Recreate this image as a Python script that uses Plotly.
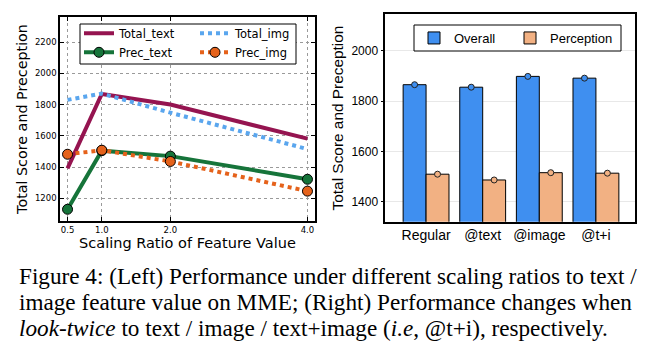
import plotly.graph_objects as go

# ---------------- data ----------------
ratios = [0.5, 1.0, 2.0, 4.0]
ratio_labels = ["0.5", "1.0", "2.0", "4.0"]
total_text = [1392, 1868, 1800, 1582]
total_img = [1830, 1870, 1748, 1515]
prec_text = [1130, 1505, 1470, 1322]
prec_img = [1482, 1508, 1436, 1246]
left_yticks = [1200, 1400, 1600, 1800, 2000, 2200]

modes = ["Regular", "@text", "@image", "@t+i"]
overall = [1865, 1855, 1898, 1891]
perception = [1509, 1486, 1515, 1513]
right_yticks = [1400, 1600, 1800, 2000]

caption_lines = [
    "Figure 4: (Left) Performance under different scaling ratios to text /",
    "image feature value on MME; (Right) Performance changes when",
    "<i>look-twice</i> to text / image / text+image (<i>i.e</i>, @t+i), respectively.",
]

W, H = 650, 348
def px(x):
    return x / W
def py(y):
    return 1 - y / H

LF = "DejaVu Sans"
RF = "Liberation Sans"
CF = "Liberation Serif"

c_tt = "#951450"
c_ti = "#5aa6ee"
c_pt = "#16743a"
c_pi = "#e5621b"
c_ov = "#3f8ff0"
c_pe = "#f2b183"

fig = go.Figure()

# ---------------- left panel ----------------
fig.add_trace(go.Scatter(x=ratios, y=total_text, name="Total_text", mode="lines",
                         line=dict(color=c_tt, width=4), xaxis="x", yaxis="y",
                         legend="legend", offsetgroup="L"))
fig.add_trace(go.Scatter(x=ratios, y=prec_text, name="Prec_text", mode="lines+markers",
                         line=dict(color=c_pt, width=4),
                         marker=dict(size=10, color=c_pt, line=dict(color="black", width=1)),
                         xaxis="x", yaxis="y", legend="legend", offsetgroup="L"))
fig.add_trace(go.Scatter(x=ratios, y=total_img, name="Total_img", mode="lines",
                         line=dict(color=c_ti, width=4, dash="dot"), xaxis="x", yaxis="y",
                         legend="legend2", offsetgroup="L"))
fig.add_trace(go.Scatter(x=ratios, y=prec_img, name="Prec_img", mode="lines+markers",
                         line=dict(color=c_pi, width=4, dash="dot"),
                         marker=dict(size=10, color=c_pi, line=dict(color="black", width=1)),
                         xaxis="x", yaxis="y", legend="legend2", offsetgroup="L"))

# ---------------- right panel ----------------
fig.add_trace(go.Bar(x=modes, y=overall, name="Overall", marker=dict(color=c_ov, line=dict(color="black", width=1)),
                     xaxis="x2", yaxis="y2", legend="legend3", offsetgroup="o"))
fig.add_trace(go.Bar(x=modes, y=perception, name="Perception", marker=dict(color=c_pe, line=dict(color="black", width=1)),
                     xaxis="x2", yaxis="y2", legend="legend4", offsetgroup="p"))
fig.add_trace(go.Scatter(x=modes, y=overall, mode="markers", showlegend=False,
                         marker=dict(size=6, color=c_ov, line=dict(color="#222", width=1)),
                         xaxis="x2", yaxis="y2", offsetgroup="o", orientation="v"))
fig.add_trace(go.Scatter(x=modes, y=perception, mode="markers", showlegend=False,
                         marker=dict(size=6, color=c_pe, line=dict(color="#222", width=1)),
                         xaxis="x2", yaxis="y2", offsetgroup="p", orientation="v"))

leg_common = dict(bgcolor="rgba(0,0,0,0)", borderwidth=0, itemwidth=30, tracegroupgap=0,
                  orientation="v", xanchor="left", yanchor="middle", itemclick=False)

fig.update_layout(
    width=W, height=H,
    margin=dict(l=0, r=0, t=0, b=0),
    paper_bgcolor="white", plot_bgcolor="white",
    barmode="group", bargap=0.19, bargroupgap=0,
    scattermode="group", scattergap=0.19,
    xaxis=dict(domain=[px(60), px(315)], range=[0.39, 4.11], tickvals=ratios, ticktext=ratio_labels,
               showline=True, mirror="ticks", linecolor="black", linewidth=1.5,
               ticks="inside", ticklen=4, tickcolor="black",
               showgrid=True, gridcolor="#9a9a9a", griddash="dot", gridwidth=1,
               zeroline=False, tickfont=dict(family=LF, size=8.5, color="black"),
               title=dict(text="Scaling Ratio of Feature Value", font=dict(family=LF, size=14.5, color="black"), standoff=2),
               automargin=False, anchor="y"),
    yaxis=dict(domain=[py(221), py(17)], range=[1055, 2360], tickvals=left_yticks,
               showline=True, mirror="ticks", linecolor="black", linewidth=1.5,
               ticks="inside", ticklen=4, tickcolor="black",
               showgrid=True, gridcolor="#9a9a9a", griddash="dot", gridwidth=1,
               zeroline=False, tickfont=dict(family=LF, size=8.5, color="black"),
               title=dict(text="Total Score and Preception", font=dict(family=LF, size=14.3, color="black"), standoff=4),
               automargin=False, anchor="x"),
    xaxis2=dict(domain=[px(385.3), px(635)], range=[-0.72, 3.69], type="category",
                showline=True, mirror=True, linecolor="black", linewidth=1.5,
                ticks="", showgrid=False, zeroline=False,
                tickfont=dict(family=RF, size=14, color="black"),
                automargin=False, anchor="y2"),
    yaxis2=dict(domain=[py(221.7), py(14.3)], range=[1320, 2145], tickvals=right_yticks,
                showline=True, mirror=True, linecolor="black", linewidth=1.5,
                ticks="outside", ticklen=3, tickcolor="black",
                showgrid=True, gridcolor="#e8e8e8", gridwidth=1, zeroline=False,
                tickfont=dict(family=RF, size=12, color="black"),
                title=dict(text="Total Score and Preception", font=dict(family=RF, size=15.4, color="black"), standoff=4),
                automargin=False, anchor="x2"),
    legend=dict(x=px(79), y=py(42.8), font=dict(family=LF, size=11.5, color="black"), **leg_common),
    legend2=dict(x=px(195), y=py(42.8), font=dict(family=LF, size=11.5, color="black"), **leg_common),
    legend3=dict(x=px(414), y=py(38), font=dict(family=RF, size=13, color="black"), **leg_common),
    legend4=dict(x=px(510), y=py(38), font=dict(family=RF, size=13, color="black"), **leg_common),
    showlegend=True,
)

# legend frames
fig.add_shape(type="rect", xref="paper", yref="paper", x0=px(80), x1=px(296), y0=py(64), y1=py(24),
              line=dict(color="black", width=1), fillcolor="white", layer="above")
fig.add_shape(type="rect", xref="paper", yref="paper", x0=px(414), x1=px(621), y0=py(51), y1=py(25),
              line=dict(color="black", width=1), fillcolor="white", layer="above")

# caption
cap_y = [276, 302, 328]
for line, yy in zip(caption_lines, cap_y):
    fig.add_annotation(text=line, xref="paper", yref="paper", x=px(17), y=py(yy),
                       xanchor="left", yanchor="middle", showarrow=False,
                       font=dict(family=CF, size=23.2, color="black"))

fig.write_html("out.html")
